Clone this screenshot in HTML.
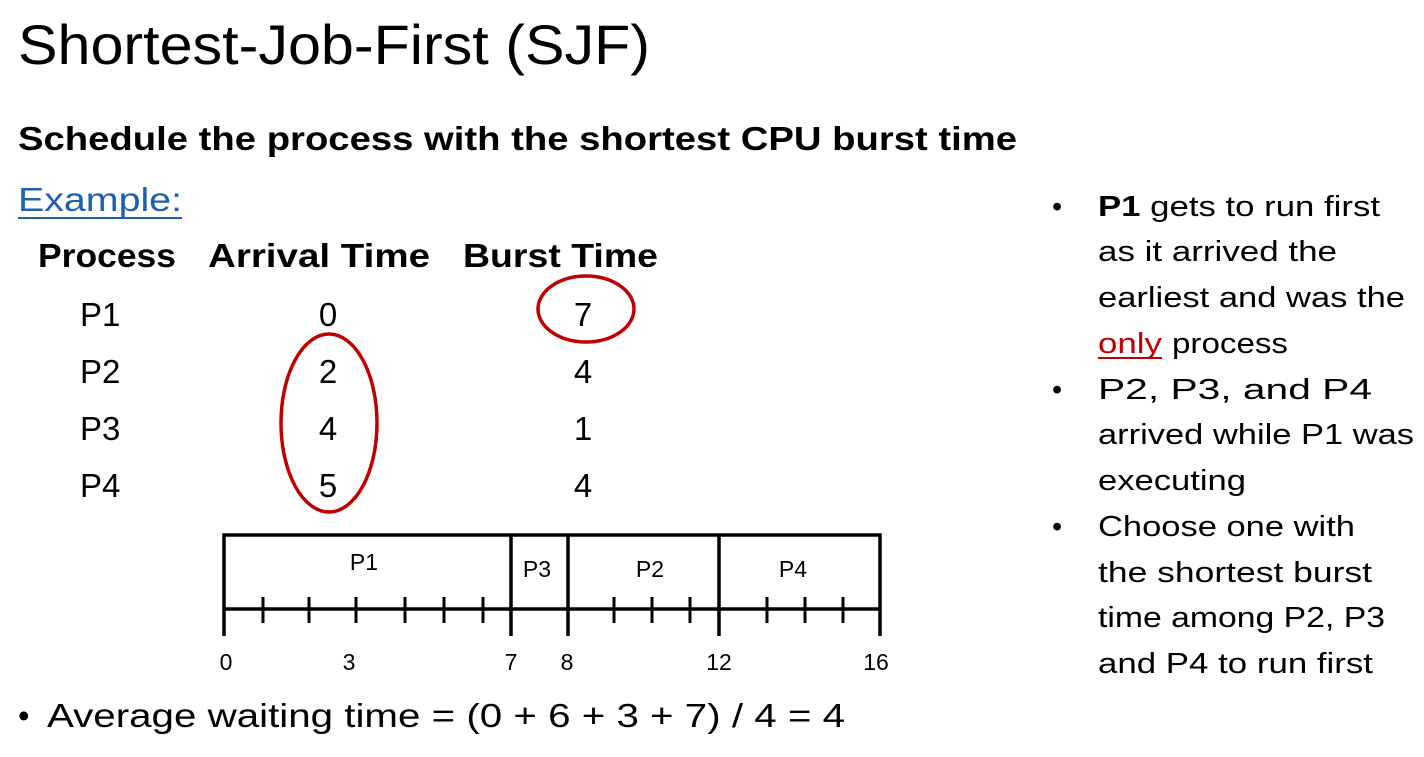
<!DOCTYPE html>
<html><head><meta charset="utf-8"><style>
html,body{margin:0;padding:0;background:#fff;}
svg{display:block;}
text{font-family:"Liberation Sans",sans-serif;fill:#000;}
</style></head><body>
<svg width="1424" height="757" viewBox="0 0 1424 757" xmlns="http://www.w3.org/2000/svg">
<text x="18" y="64" font-size="56" textLength="632" lengthAdjust="spacingAndGlyphs">Shortest-Job-First (SJF)</text>
<text x="18" y="150" font-size="33" font-weight="bold" textLength="999" lengthAdjust="spacingAndGlyphs">Schedule the process with the shortest CPU burst time</text>
<text x="18" y="211" font-size="33" style="fill:#1f5fb0" textLength="164" lengthAdjust="spacingAndGlyphs">Example:</text>
<line x1="18" y1="218" x2="182" y2="218" stroke="#1f5fb0" stroke-width="2"/>
<g font-size="33" font-weight="bold">
<text x="38" y="267" textLength="138" lengthAdjust="spacingAndGlyphs">Process</text>
<text x="208" y="267" textLength="222" lengthAdjust="spacingAndGlyphs">Arrival Time</text>
<text x="463" y="267" textLength="195" lengthAdjust="spacingAndGlyphs">Burst Time</text>
</g>
<g font-size="33">
<text x="80" y="326">P1</text><text x="328" y="326" text-anchor="middle">0</text><text x="583" y="326" text-anchor="middle">7</text>
<text x="80" y="383">P2</text><text x="328" y="383" text-anchor="middle">2</text><text x="583" y="383" text-anchor="middle">4</text>
<text x="80" y="440">P3</text><text x="328" y="440" text-anchor="middle">4</text><text x="583" y="440" text-anchor="middle">1</text>
<text x="80" y="497">P4</text><text x="328" y="497" text-anchor="middle">5</text><text x="583" y="497" text-anchor="middle">4</text>
</g>
<ellipse cx="586" cy="309" rx="48" ry="33" fill="none" stroke="#c00000" stroke-width="3.5"/>
<ellipse cx="329" cy="423" rx="48" ry="89" fill="none" stroke="#c00000" stroke-width="3.5"/>
<g stroke="#000" stroke-width="3.5" fill="none">
<polyline points="224,636 224,535 880,535 880,636"/>
<line x1="224" y1="609" x2="880" y2="609"/>
<line x1="511" y1="535" x2="511" y2="636"/>
<line x1="568" y1="535" x2="568" y2="636"/>
<line x1="719" y1="535" x2="719" y2="636"/>
<g stroke-width="3">
<line x1="263" y1="597" x2="263" y2="623"/><line x1="309" y1="597" x2="309" y2="623"/><line x1="356" y1="597" x2="356" y2="623"/>
<line x1="405" y1="597" x2="405" y2="623"/><line x1="444" y1="597" x2="444" y2="623"/><line x1="483" y1="597" x2="483" y2="623"/>
<line x1="614" y1="597" x2="614" y2="623"/><line x1="652" y1="597" x2="652" y2="623"/><line x1="690" y1="597" x2="690" y2="623"/>
<line x1="767" y1="597" x2="767" y2="623"/><line x1="805" y1="597" x2="805" y2="623"/><line x1="843" y1="597" x2="843" y2="623"/>
</g></g>
<g font-size="23" text-anchor="middle">
<text x="364" y="570">P1</text><text x="537" y="577">P3</text><text x="650" y="577">P2</text><text x="793" y="577">P4</text>
<text x="226" y="670">0</text><text x="349" y="670">3</text><text x="511" y="670">7</text><text x="567" y="670">8</text><text x="719" y="670">12</text><text x="876" y="670">16</text>
</g>
<text x="18" y="727" font-size="33">•</text>
<text x="47" y="727" font-size="33" textLength="798" lengthAdjust="spacingAndGlyphs">Average waiting time = (0 + 6 + 3 + 7) / 4  = 4</text>
<g font-size="29">
<text x="1052" y="216">•</text><text x="1052" y="399">•</text><text x="1052" y="536">•</text>
<text x="1098" y="216" textLength="282" lengthAdjust="spacingAndGlyphs"><tspan font-weight="bold">P1</tspan> gets to run first</text>
<text x="1098" y="261" textLength="239" lengthAdjust="spacingAndGlyphs">as it arrived the</text>
<text x="1098" y="307" textLength="307" lengthAdjust="spacingAndGlyphs">earliest and was the</text>
<text x="1098" y="353" style="fill:#c00000" textLength="64" lengthAdjust="spacingAndGlyphs">only</text>
<line x1="1098" y1="358" x2="1162" y2="358" stroke="#c00000" stroke-width="2"/>
<text x="1172" y="353" textLength="116" lengthAdjust="spacingAndGlyphs">process</text>
<text x="1098" y="399" textLength="274" lengthAdjust="spacingAndGlyphs">P2, P3, and P4</text>
<text x="1098" y="444" textLength="316" lengthAdjust="spacingAndGlyphs">arrived while P1 was</text>
<text x="1098" y="490" textLength="148" lengthAdjust="spacingAndGlyphs">executing</text>
<text x="1098" y="536" textLength="257" lengthAdjust="spacingAndGlyphs">Choose one with</text>
<text x="1098" y="582" textLength="274" lengthAdjust="spacingAndGlyphs">the shortest burst</text>
<text x="1098" y="627" textLength="287" lengthAdjust="spacingAndGlyphs">time among P2, P3</text>
<text x="1098" y="673" textLength="275" lengthAdjust="spacingAndGlyphs">and P4 to run first</text>
</g>
</svg>
</body></html>
